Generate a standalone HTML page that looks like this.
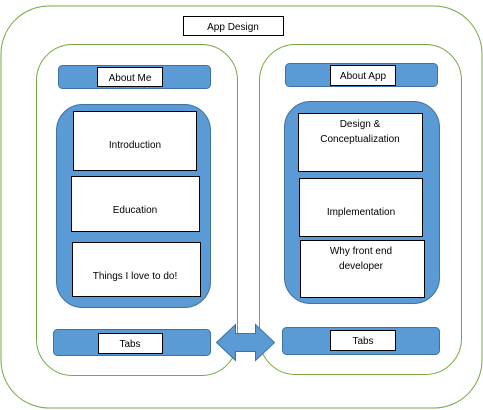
<!DOCTYPE html>
<html><head><style>body{margin:0;background:#fff}svg{display:block}text{font-family:"Liberation Sans",sans-serif;font-size:10px;fill:#000;text-anchor:middle}</style></head><body>
<svg width="483" height="410" viewBox="0 0 483 410">
<rect x="1" y="6" width="481" height="402" rx="48" fill="#fff" stroke="#77a843" stroke-width="1"/>
<rect x="183.5" y="16.5" width="100" height="19" fill="#fff" stroke="#000"/>
<text x="233" y="30">App Design</text>
<rect x="36.5" y="44.5" width="201" height="331" rx="36" fill="#fff" stroke="#77a843"/>
<rect x="259.5" y="44.5" width="202" height="330" rx="36" fill="#fff" stroke="#77a843"/>
<g fill="#5b9bd5" stroke="#41719c">
<rect x="58.5" y="65.5" width="152" height="23" rx="4"/>
<rect x="285.5" y="63.5" width="152" height="23" rx="4"/>
<rect x="56.5" y="104.5" width="154" height="203" rx="26"/>
<rect x="284.5" y="101.5" width="155" height="202" rx="26"/>
<rect x="53.5" y="329.5" width="157" height="26" rx="4"/>
<rect x="282.5" y="327.5" width="157" height="27" rx="4"/>
<path d="M216.5,342.5 L235.5,324.5 L235.5,333.5 L255.5,333.5 L255.5,324.5 L274.5,342.5 L255.5,360.5 L255.5,351.5 L235.5,351.5 L235.5,360.5 Z"/>
</g>
<g fill="#fff" stroke="#000">
<rect x="97.5" y="67.5" width="65" height="19"/>
<rect x="330.5" y="65.5" width="65" height="20"/>
<rect x="73.5" y="111.5" width="123" height="59"/>
<rect x="71.5" y="176.5" width="128" height="55"/>
<rect x="72.5" y="242.5" width="128" height="54"/>
<rect x="298.5" y="113.5" width="124" height="58"/>
<rect x="299.5" y="178.5" width="123" height="58"/>
<rect x="300.5" y="240.5" width="124" height="57"/>
<rect x="98.5" y="333.5" width="64" height="20"/>
<rect x="330.5" y="330.5" width="65" height="20"/>
</g>
<text x="130" y="81">About Me</text>
<text x="363" y="79">About App</text>
<text x="135" y="148">Introduction</text>
<text x="135" y="213">Education</text>
<text x="135" y="279">Things I love to do!</text>
<text x="360" y="127">Design &amp;</text>
<text x="360" y="142">Conceptualization</text>
<text x="361" y="215">Implementation</text>
<text x="361" y="254">Why front end</text>
<text x="361" y="269">developer</text>
<text x="130" y="347">Tabs</text>
<text x="363" y="344">Tabs</text>
</svg>
</body></html>
